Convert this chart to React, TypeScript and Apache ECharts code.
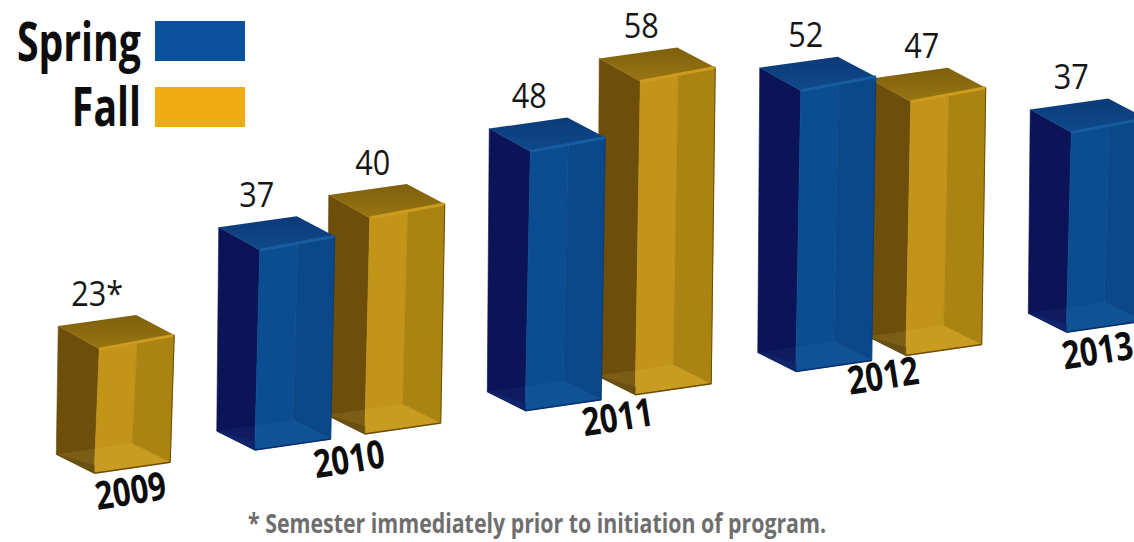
import React, { useEffect, useRef } from "react";
import * as echarts from "echarts";

const years = ["2009", "2010", "2011", "2012", "2013"];
const springValues: (number | null)[] = [null, 37, 48, 52, 37];
const fallValues: (number | null)[] = [23, 40, 58, 47, null];
const springLabels = ["", "37", "48", "52", "37"];
const fallLabels = ["23*", "40", "58", "47", ""];
const springLabelShift = [0, -3, -1, 5, 0];
const fallLabelShift = [-2, 3, 1, 11, 0];
const yearLabelShift = [92, 40, 38, 33, -23];
const yearLabelDrop = [21, 21, 18, 15, 21];
const footnote = "* Semester immediately prior to initiation of program.";

const FONT = '"Open Sans", "Noto Sans", sans-serif';
const SKEW = 0.1452;

const palette = {
  Spring: {
    legend: "#0a5299", side: "#0a1457", sideLow: "#0a1d63", frontA: "#0a4d91", frontB: "#0a4889",
    topA: "#0c3a78", topB: "#0e4a8c", edge: "#175c9f", line: "#0a2f6a", floor: "rgba(120,170,230,0.06)",
  },
  Fall: {
    legend: "#efac12", side: "#6d4e0b", sideLow: "#5a4108", frontA: "#c29518", frontB: "#aa8312",
    topA: "#7d5f0e", topB: "#9a7611", edge: "#cc9c1f", line: "#6b4e0a", floor: "rgba(255,225,120,0.10)",
  },
};

type Key = keyof typeof palette;

function poly(points: number[][], fill: any, z2 = 0) {
  return {
    type: "polygon", z2, shape: { points },
    style: { fill, stroke: typeof fill === "string" && fill[0] === "#" ? fill : null, lineWidth: 0.6 },
  };
}
function seg(a: number[], b: number[], stroke: string, lineWidth: number, z2 = 5) {
  return { type: "line", z2, shape: { x1: a[0], y1: a[1], x2: b[0], y2: b[1] }, style: { stroke, lineWidth } };
}
const add = (p: number[], dx: number, dy: number) => [p[0] + dx, p[1] + dy];
const lerp = (a: number[], b: number[], t: number) => [a[0] + (b[0] - a[0]) * t, a[1] + (b[1] - a[1]) * t];

function makeRender(key: Key, labels: string[], labelShift: number[], offset: number) {
  const c = palette[key];
  return (_: any, api: any) => {
    const idx = api.value(0);
    const top = api.coord([idx, api.value(1)]);
    const bottom = api.coord([idx, 0]);
    const x = bottom[0] + offset;
    const fbl = [x, bottom[1] - SKEW * x];
    const H = bottom[1] - top[1];
    const fbr = add(fbl, 76, -11);
    const ftl = add(fbl, 5, -H);
    const ftr = add(ftl, 75, -14);
    const bbl = add(fbl, -38, -19);
    const bbr = add(fbr, -38, -19);
    const btl = add(ftl, -41, -23);
    const btr = add(ftr, -38, -20);
    const splitTop = lerp(ftl, ftr, 38 / 75);
    return {
      type: "group",
      children: [
        poly([btl, ftl, fbl, bbl], c.side, 1),
        poly([bbl, fbl, add(fbl, 0, -8)], c.sideLow, 2),
        poly([ftl, splitTop, bbr, fbr, fbl], c.frontA, 1),
        poly([splitTop, ftr, fbr, bbr], c.frontB, 1),
        poly([bbl, bbr, fbr, fbl], c.floor, 3),
        poly([btl, btr, ftr, ftl], new echarts.graphic.LinearGradient(0, 0, 0, 1, [
          { offset: 0, color: c.topA }, { offset: 1, color: c.topB },
        ]), 2),
        seg(ftl, ftr, c.edge, 3),
        seg(fbl, fbr, c.line, 1.5),
        seg(ftr, fbr, c.line, key === "Fall" ? 1 : 0.5),
        {
          type: "text", z2: 6, x: ftl[0] + labelShift[idx], y: ftl[1] - 57, scaleX: 0.9,
          style: {
            text: labels[idx], fontFamily: FONT, fontSize: 34, fill: "#161616",
            align: "center", verticalAlign: "middle",
          },
        },
      ],
    };
  };
}

function renderYear(_: any, api: any) {
  const idx = api.value(0);
  const bottom = api.coord([idx, 0]);
  const x = bottom[0] + yearLabelShift[idx];
  return {
    type: "text", x, y: bottom[1] - SKEW * x + yearLabelDrop[idx], rotation: (9 * Math.PI) / 180, scaleX: 0.8,
    style: {
      text: years[idx], fontFamily: FONT, fontWeight: "bold", fontSize: 39, fill: "#0d0d0d",
      align: "center", verticalAlign: "middle",
    },
  };
}

const pairs = (vals: (number | null)[]) =>
  vals.map((v, i) => (v == null ? null : [i, v])).filter(Boolean) as number[][];

const legendText = (text: string, y: number) => ({
  type: "text", x: 141, y, scaleX: 0.74, z: 10,
  style: {
    text, fontFamily: FONT, fontWeight: "bold", fontSize: 53, fill: "#0d0d0d",
    align: "right", verticalAlign: "middle",
  },
});
const legendBox = (fill: string, y: number) => ({
  type: "rect", shape: { x: 155, y, width: 90, height: 40 }, z: 10, style: { fill },
});

export default function App() {
  const ref = useRef<HTMLDivElement>(null);
  useEffect(() => {
    document.body.style.margin = "0";
    const chart = echarts.init(ref.current!, undefined, { renderer: "svg" });
    chart.setOption({
      animation: false,
      backgroundColor: "#ffffff",
      grid: { left: -97, width: 1352.5, top: 55, height: 432, outerBoundsMode: "none" },
      xAxis: { type: "category", data: years, show: false },
      yAxis: { type: "value", min: 0, max: 80, show: false },
      graphic: [
        legendText("Spring", 41),
        legendText("Fall", 106),
        legendBox(palette.Spring.legend, 21),
        legendBox(palette.Fall.legend, 87),
        {
          type: "text", x: 248, y: 522, scaleX: 0.79, z: 10,
          style: {
            text: footnote, fontFamily: FONT, fontWeight: "bold", fontSize: 27, fill: "#6e6e6e",
            align: "left", verticalAlign: "middle",
          },
        },
      ],
      series: [
        {
          name: "Fall", type: "custom", data: pairs(fallValues), clip: false,
          itemStyle: { color: palette.Fall.legend },
          renderItem: makeRender("Fall", fallLabels, fallLabelShift, 56),
          encode: { x: 0, y: 1 }, z: 2,
        },
        {
          name: "Spring", type: "custom", data: pairs(springValues), clip: false,
          itemStyle: { color: palette.Spring.legend },
          renderItem: makeRender("Spring", springLabels, springLabelShift, -54),
          encode: { x: 0, y: 1 }, z: 3,
        },
        {
          name: "years", type: "custom", data: years.map((_, i) => [i, 0]), clip: false,
          renderItem: renderYear, encode: { x: 0, y: 1 }, z: 4,
        },
      ],
    });
    return () => chart.dispose();
  }, []);
  return <div ref={ref} style={{ width: 1134, height: 542 }} />;
}
